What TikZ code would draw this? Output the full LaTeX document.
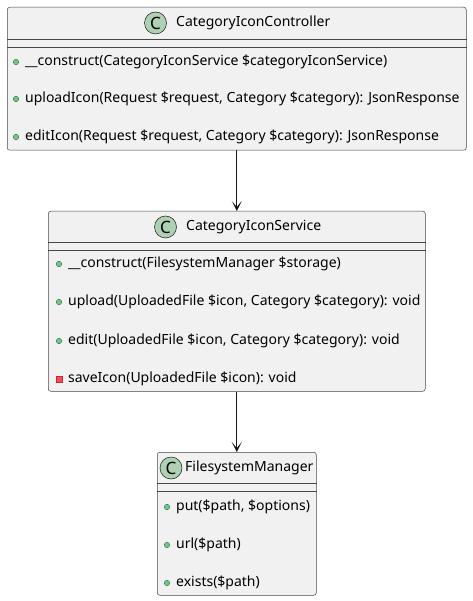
\documentclass[tikz,border=0pt]{standalone}
\usepackage{fontspec}
\setmainfont{Noto Sans}
\usetikzlibrary{positioning,arrows.meta}
\definecolor{boxFill}{HTML}{F1F1F1}
\definecolor{boxLine}{HTML}{181818}
\definecolor{iconFill}{HTML}{ADD1B2}
\definecolor{pubFill}{HTML}{84BE84}
\definecolor{pubLine}{HTML}{038048}
\definecolor{privFill}{HTML}{F24D5C}
\definecolor{privLine}{HTML}{C82930}
\begin{document}
\begin{tikzpicture}[x=1pt,y=-1pt]
\tikzset{myFont/.style={font=\fontsize{14}{16}\selectfont}}
\tikzset{myBox/.style={draw=boxLine!80,fill=boxFill,rounded corners=2.5pt,line width=0.5pt,anchor=north west,inner sep=0}}
\tikzset{myRule/.style={draw=boxLine!80,line width=0.5pt}}
\tikzset{myIcon/.style={draw=boxLine,fill=iconFill,circle,minimum size=22pt,inner sep=0,line width=0.5pt,font=\fontsize{17}{17}\selectfont}}
\tikzset{myText/.style={myFont,anchor=west,inner sep=0}}
\tikzset{myPub/.style={circle,draw=pubLine,fill=pubFill,minimum size=5.5pt,inner sep=0,line width=0.4pt}}
\tikzset{myPriv/.style={rectangle,draw=privLine,fill=privFill,minimum size=6.5pt,inner sep=0,line width=0.4pt}}
\tikzset{myLink/.style={draw=boxLine,line width=0.8pt,-{Stealth[length=10pt,width=10pt,inset=6pt]}}}

\useasboundingbox (0,0) rectangle (472,601);

% controller
\node[myBox,minimum width=459pt,minimum height=143pt] (ctrl) at (7,7) {};
\node[myIcon] (ctrlIcon) at (155.5,23) {C};
\node[myText] (ctrlTitle) at (176,23) {CategoryIconController};
\draw[myRule] (ctrl.west |- 0,39) -- (ctrl.east |- 0,39);
\draw[myRule] (ctrl.west |- 0,47) -- (ctrl.east |- 0,47);
\node[myPub] (ctrlDot1) at (16,62) {};
\node[myText,right=6pt of ctrlDot1] (ctrlM1) {\_\_construct(CategoryIconService \$categoryIconService)};
\node[myPub] (ctrlDot2) at (16,99) {};
\node[myText,right=6pt of ctrlDot2] (ctrlM2) {uploadIcon(Request \$request, Category \$category): JsonResponse};
\node[myPub] (ctrlDot3) at (16,137) {};
\node[myText,right=6pt of ctrlDot3] (ctrlM3) {editIcon(Request \$request, Category \$category): JsonResponse};

% service
\node[myBox,minimum width=377pt,minimum height=180pt] (serv) at (48,211) {};
\node[myIcon] (servIcon) at (165.5,227) {C};
\node[myText] (servTitle) at (186,227) {CategoryIconService};
\draw[myRule] (serv.west |- 0,242) -- (serv.east |- 0,242);
\draw[myRule] (serv.west |- 0,250) -- (serv.east |- 0,250);
\node[myPub] (servDot1) at (59,264) {};
\node[myText,right=6pt of servDot1] (servM1) {\_\_construct(FilesystemManager \$storage)};
\node[myPub] (servDot2) at (59,302) {};
\node[myText,right=6pt of servDot2] (servM2) {upload(UploadedFile \$icon, Category \$category): void};
\node[myPub] (servDot3) at (59,341) {};
\node[myText,right=6pt of servDot3] (servM3) {edit(UploadedFile \$icon, Category \$category): void};
\node[myPriv] (servDot4) at (59,379) {};
\node[myText,right=5.5pt of servDot4] (servM4) {saveIcon(UploadedFile \$icon): void};

% manager
\node[myBox,minimum width=159pt,minimum height=143pt] (mgr) at (157,452) {};
\node[myIcon] (mgrIcon) at (171,468) {C};
\node[myText] (mgrTitle) at (185,468) {FilesystemManager};
\draw[myRule] (mgr.west |- 0,483) -- (mgr.east |- 0,483);
\draw[myRule] (mgr.west |- 0,491) -- (mgr.east |- 0,491);
\node[myPub] (mgrDot1) at (167,507) {};
\node[myText,right=6pt of mgrDot1] (mgrM1) {put(\$path, \$options)};
\node[myPub] (mgrDot2) at (167,545) {};
\node[myText,right=6pt of mgrDot2] (mgrM2) {url(\$path)};
\node[myPub] (mgrDot3) at (167,583) {};
\node[myText,right=6pt of mgrDot3] (mgrM3) {exists(\$path)};

\draw[myLink] (ctrl.south) -- (serv.north);
\draw[myLink] (serv.south) -- (mgr.north);
\end{tikzpicture}
\end{document}
